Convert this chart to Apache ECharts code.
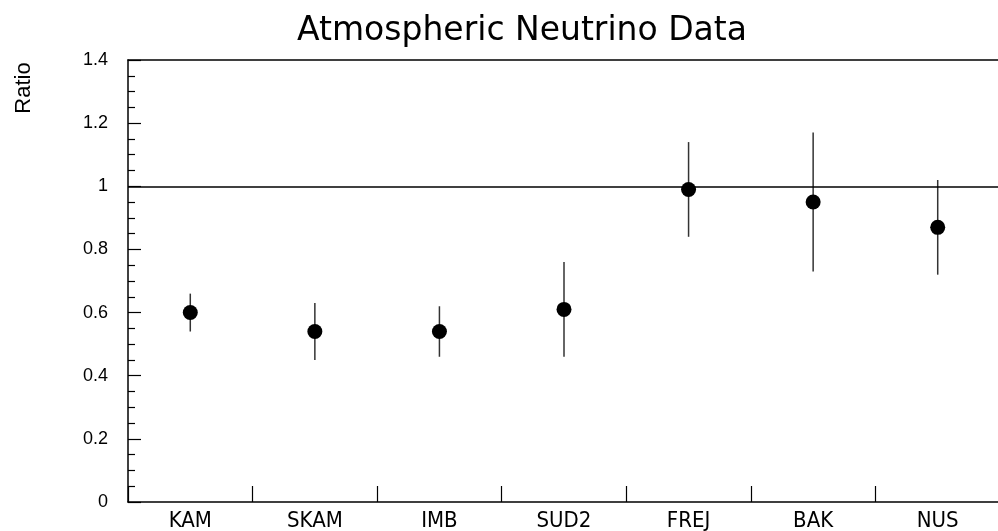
<!DOCTYPE html>
<html>
<head>
<meta charset="utf-8">
<script src="https://cdn.jsdelivr.net/npm/echarts@6/dist/echarts.min.js"></script>
<style>
html,body{margin:0;padding:0;background:#fff;}
#chart{width:998px;height:531px;}
</style>
</head>
<body>
<div id="chart"></div>
<script>
const categories = ['KAM', 'SKAM', 'IMB', 'SUD2', 'FREJ', 'BAK', 'NUS'];
const ratios = [0.60, 0.54, 0.54, 0.61, 0.99, 0.95, 0.87];
const errLow = [0.54, 0.45, 0.46, 0.46, 0.84, 0.73, 0.72];
const errHigh = [0.66, 0.63, 0.62, 0.76, 1.14, 1.17, 1.02];
const yTicks = [0, 0.2, 0.4, 0.6, 0.8, 1, 1.2, 1.4];
const referenceLine = 1;

const FONT = "'Liberation Sans'";
const NARROW = "'Liberation Sans Narrow', 'DejaVu Sans Condensed', 'Liberation Sans'";
const chart = echarts.init(document.getElementById('chart'), null, {renderer: 'canvas'});

const errData = categories.map((c, i) => [i, errLow[i], errHigh[i]]);

chart.setOption({
  backgroundColor: '#ffffff',
  animation: false,
  title: {
    text: 'Atmospheric Neutrino Data',
    left: 517,
    top: 10,
    textAlign: 'center',
    textStyle: {fontFamily: "'DejaVu Sans'", fontSize: 33, fontWeight: 'normal', color: '#000'}
  },
  graphic: [{
    type: 'text',
    x: 24,
    y: 88,
    rotation: Math.PI / 2,
    style: {
      text: 'Ratio',
      fontFamily: FONT,
      fontSize: 22,
      fill: '#000',
      textAlign: 'center',
      textVerticalAlign: 'middle'
    }
  }],
  grid: {
    left: 128,
    top: 60,
    width: 872,
    bottom: 29,
    show: false,
    containLabel: false,
    outerBoundsMode: 'none'
  },
  xAxis: [{
    type: 'category',
    data: categories,
    boundaryGap: true,
    axisLine: {show: true, lineStyle: {color: '#000', width: 1.5}},
    axisTick: {show: true, inside: true, length: 16, lineStyle: {color: '#000', width: 1.2}},
    axisLabel: {fontFamily: NARROW, fontSize: 22, color: '#000', margin: 8},
    splitLine: {show: false}
  }, {
    type: 'category',
    data: categories,
    position: 'top',
    axisLine: {show: true, lineStyle: {color: '#000', width: 1.5}},
    axisTick: {show: false},
    axisLabel: {show: false},
    splitLine: {show: false}
  }],
  yAxis: {
    type: 'value',
    min: yTicks[0],
    max: yTicks[yTicks.length - 1],
    interval: 0.2,
    axisLine: {show: true, lineStyle: {color: '#000', width: 1.5}},
    axisTick: {show: true, inside: true, length: 13, lineStyle: {color: '#000', width: 1.2}},
    minorTick: {show: true, splitNumber: 4, length: 7, lineStyle: {color: '#000', width: 1.2}},
    axisLabel: {fontFamily: FONT, fontSize: 18, color: '#000', margin: 20},
    splitLine: {show: false}
  },
  series: [
    {
      type: 'custom',
      name: 'err',
      data: errData,
      renderItem: function (params, api) {
        const x = api.value(0);
        const p1 = api.coord([x, api.value(1)]);
        const p2 = api.coord([x, api.value(2)]);
        return {
          type: 'line',
          shape: {x1: p1[0], y1: p1[1], x2: p2[0], y2: p2[1]},
          style: {stroke: '#333', lineWidth: 1.5}
        };
      },
      encode: {x: 0, y: [1, 2]},
      z: 2
    },
    {
      type: 'scatter',
      name: 'Ratio',
      data: ratios,
      symbol: 'circle',
      symbolSize: 15,
      itemStyle: {color: '#000', opacity: 1},
      z: 3,
      markLine: {
        silent: true,
        symbol: ['none', 'none'],
        label: {show: false},
        lineStyle: {color: '#000', width: 1.5, type: 'solid', opacity: 1},
        data: [{yAxis: referenceLine}]
      }
    }
  ]
});
</script>
</body>
</html>
